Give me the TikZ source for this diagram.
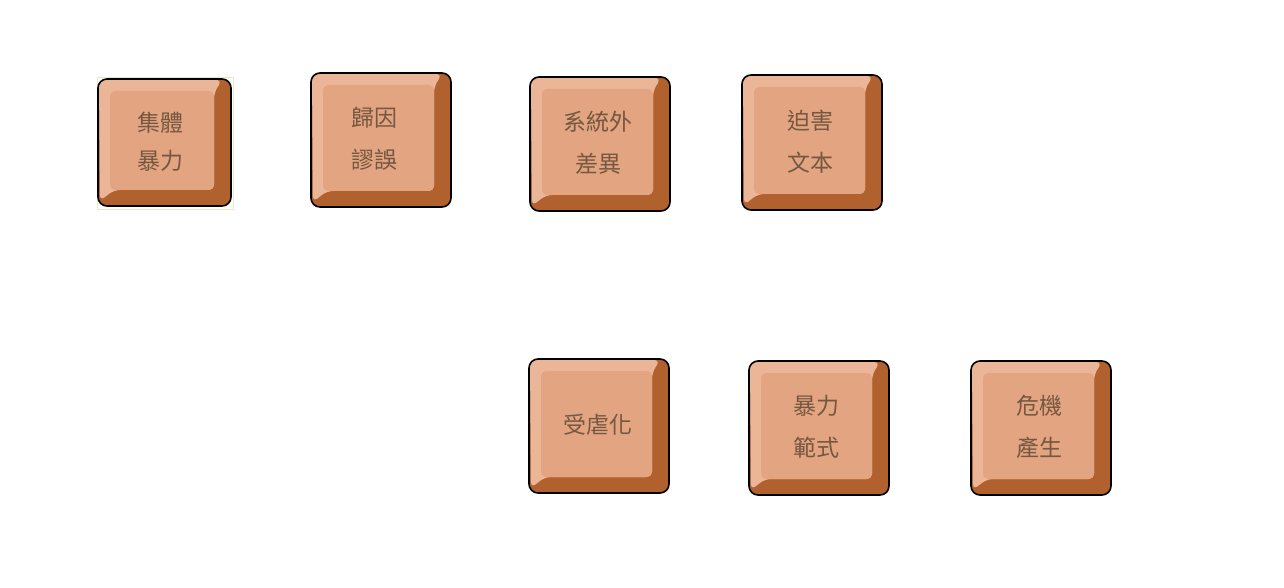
\documentclass[tikz,border=0pt]{standalone}
\usepackage{fontspec}
\newfontfamily\cjk{Noto Sans CJK TC}
\definecolor{keydark}{HTML}{B0612E}
\definecolor{keybevel}{HTML}{EBB597}
\definecolor{keyface}{HTML}{E3A482}
\definecolor{keytext}{HTML}{75583F}
\definecolor{faintline}{HTML}{EEE6C4}
\tikzset{
  keylabel/.style={text=keytext, align=center, inner sep=0pt, font=\cjk\fontsize{23}{42}\selectfont},
  keyborder/.style={draw=black, line width=1.6pt, rounded corners=9pt},
}
\newcommand\keycap[7]{%
  \fill[keydark, rounded corners=9pt] (#2,#3) rectangle (#4,#5);
  \fill[keybevel, rounded corners=6pt] ({#2+1},{#3+1}) -- ({#4-9},{#3+1}) -- ({#4-17},{#3+14}) -- ({#4-17},{#5-16}) -- ({#2+16},{#5-16}) -- ({#2+2},{#5-5}) -- cycle;
  \fill[keyface, rounded corners=5pt] ({#2+12},{#3+12}) -- ({#4-17},{#3+12}) -- ({#4-17},{#5-16}) -- ({#2+12},{#5-16}) -- cycle;
  \draw[keyborder] (#2,#3) rectangle (#4,#5);
  \node[keylabel] (#1) at ({(#2+#4)/2+#6},{(#3+#5)/2-1}) {#7};
}
\begin{document}
\begin{tikzpicture}[x=1pt,y=-1pt]
\useasboundingbox[fill=white] (0,0) rectangle (1284,588);
\draw[faintline, line width=0.8pt] (97,77) rectangle (233,209);
\keycap{k1}{98}{79}{231}{206}{-4}{集體\\[-4pt]暴力}
\keycap{k2}{311}{73}{451}{207}{-7}{歸因\\謬誤}
\keycap{k3}{530}{77}{670}{211}{-2}{系統外\\差異}
\keycap{k4}{742}{75}{882}{210}{-2}{迫害\\文本}
\keycap{k5}{529}{359}{669}{493}{-1}{受虐化}
\keycap{k6}{749}{361}{889}{495}{-3}{暴力\\範式}
\keycap{k7}{971}{361}{1111}{495}{-2}{危機\\產生}
\end{tikzpicture}
\end{document}
